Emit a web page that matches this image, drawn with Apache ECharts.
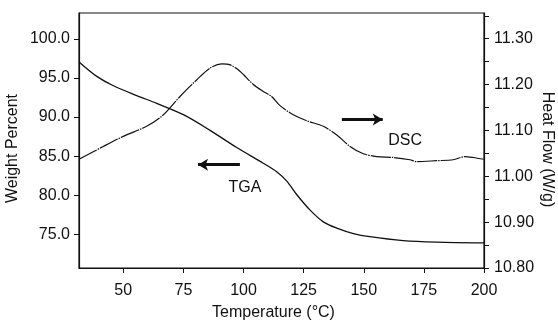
<!DOCTYPE html>
<html><head><meta charset="utf-8">
<script src="https://cdn.jsdelivr.net/npm/echarts@6/dist/echarts.min.js"></script>
<style>html,body{margin:0;padding:0;background:#fff}#c{width:558px;height:320px}</style>
</head><body><div id="c"></div>
<script>
const tgaTemp   = [31.6, 39.0, 45.9, 55.6, 63.9, 75.0, 86.1, 97.2, 108.2, 113.8, 118.0, 122.1, 127.7, 133.2, 138.8, 145.7, 152.5, 166.4, 180.3, 200.0];
const tgaWeight = [97.05, 95.2, 94.0, 92.75, 91.75, 90.3, 88.3, 86.1, 84.1, 83.0, 81.8, 80.1, 78.1, 76.6, 75.8, 75.1, 74.7, 74.2, 74.0, 73.9];
const dscTemp = [31.6, 41.7, 50.0, 59.7, 66.7, 73.6, 80.5, 86.1, 90.9, 94.4, 98.5, 104.1, 108.2, 111.7, 115.2, 120.7, 126.3, 133.2, 138.8, 144.3, 149.8, 155.4, 162.3, 169.2, 172.0, 180.3, 187.2, 192.1, 195.5, 200.0];
const dscHeat = [11.037, 11.065, 11.087, 11.109, 11.134, 11.174, 11.210, 11.236, 11.245, 11.243, 11.229, 11.200, 11.185, 11.174, 11.154, 11.134, 11.121, 11.109, 11.090, 11.065, 11.049, 11.043, 11.041, 11.036, 11.032, 11.034, 11.036, 11.043, 11.041, 11.037];
const xTicks = [50, 75, 100, 125, 150, 175, 200];
const leftTicks = [75, 80, 85, 90, 95, 100];
const rightLabels = [10.8, 10.9, 11.0, 11.1, 11.2, 11.3];
const rightTicks = [10.8, 10.85, 10.9, 10.95, 11.0, 11.05, 11.1, 11.15, 11.2, 11.25, 11.3, 11.35];
const xName = 'Temperature (°C)';
const leftName = 'Weight Percent';
const rightName = 'Heat Flow (W/g)';

const FONT = 'Liberation Sans, Arial, Helvetica, sans-serif';
const INK = '#111';
const chart = echarts.init(document.getElementById('c'), null, {renderer: 'canvas'});
const tick = {show: true, inside: false, length: 5, lineStyle: {color: INK, width: 1}};
const lab = {fontFamily: FONT, fontSize: 16, color: INK};
chart.setOption({
  animation: false,
  backgroundColor: '#fff',
  textStyle: {fontFamily: FONT},
  grid: {left: 79, right: 74, top: 13, bottom: 52, containLabel: false, outerBoundsMode: 'none',
    show: true, borderColor: INK, borderWidth: 1.2, backgroundColor: 'transparent'},
  xAxis: {
    type: 'value', min: 31.6, max: 200,
    axisLine: {show: true, lineStyle: {color: INK, width: 1.2}},
    splitLine: {show: false},
    name: xName, nameLocation: 'middle', nameGap: 37, nameMoveOverlap: false,
    nameTextStyle: Object.assign({}, lab, {padding: [0, 16, 0, 0]}),
    axisTick: Object.assign({}, tick, {customValues: xTicks}),
    axisLabel: Object.assign({}, lab, {customValues: xTicks, margin: 15})
  },
  yAxis: [
    {
      type: 'value', position: 'left', min: 70.7, max: 103.3,
      axisLine: {show: true, lineStyle: {color: INK, width: 1.2}},
      splitLine: {show: false},
      name: leftName, nameLocation: 'middle', nameGap: 58, nameMoveOverlap: false,
      nameTextStyle: Object.assign({}, lab, {padding: [0, 16, 0, 0]}),
      axisTick: Object.assign({}, tick, {customValues: leftTicks}),
      axisLabel: Object.assign({}, lab, {customValues: leftTicks, margin: 9, formatter: v => v.toFixed(1)})
    },
    {
      type: 'value', position: 'right', min: 10.8, max: 11.356,
      axisLine: {show: true, lineStyle: {color: INK, width: 1.2}},
      splitLine: {show: false},
      name: rightName, nameLocation: 'middle', nameGap: 55, nameRotate: -90, nameMoveOverlap: false,
      nameTextStyle: Object.assign({}, lab, {padding: [0, 0, 0, 18]}),
      axisTick: Object.assign({}, tick, {customValues: rightTicks}),
      axisLabel: Object.assign({}, lab, {customValues: rightLabels, margin: 10, formatter: v => v.toFixed(2)})
    }
  ],
  series: [
    {
      name: 'TGA', type: 'line', yAxisIndex: 0, showSymbol: false, smooth: 0.3,
      data: tgaTemp.map((t, i) => [t, tgaWeight[i]]),
      lineStyle: {color: INK, width: 1.3},
      markLine: {
        silent: true, symbol: ['arrow', 'none'], symbolSize: [9, 10],
        label: {show: false},
        lineStyle: {color: INK, width: 3, type: 'solid'},
        data: [[{coord: [81.1, 83.9]}, {coord: [98.5, 83.9]}]]
      },
      markPoint: {
        silent: true, symbol: 'circle', symbolSize: 0,
        label: {show: true, position: 'inside', formatter: 'TGA', fontFamily: FONT, fontSize: 16, color: INK},
        data: [{coord: [100.6, 81.0]}]
      }
    },
    {
      name: 'DSC', type: 'line', yAxisIndex: 1, showSymbol: false, smooth: 0.3,
      data: dscTemp.map((t, i) => [t, dscHeat[i]]),
      lineStyle: {color: INK, width: 1.2, type: [20, 1, 1.5, 1]},
      markLine: {
        silent: true, symbol: ['none', 'arrow'], symbolSize: [9, 10],
        label: {show: false},
        lineStyle: {color: INK, width: 3, type: 'solid'},
        data: [[{coord: [140.9, 11.124]}, {coord: [157.9, 11.124]}]]
      },
      markPoint: {
        silent: true, symbol: 'circle', symbolSize: 0,
        label: {show: true, position: 'inside', formatter: 'DSC', fontFamily: FONT, fontSize: 16, color: INK},
        data: [{coord: [167.2, 11.077]}]
      }
    }
  ]
});
</script>
</body></html>
